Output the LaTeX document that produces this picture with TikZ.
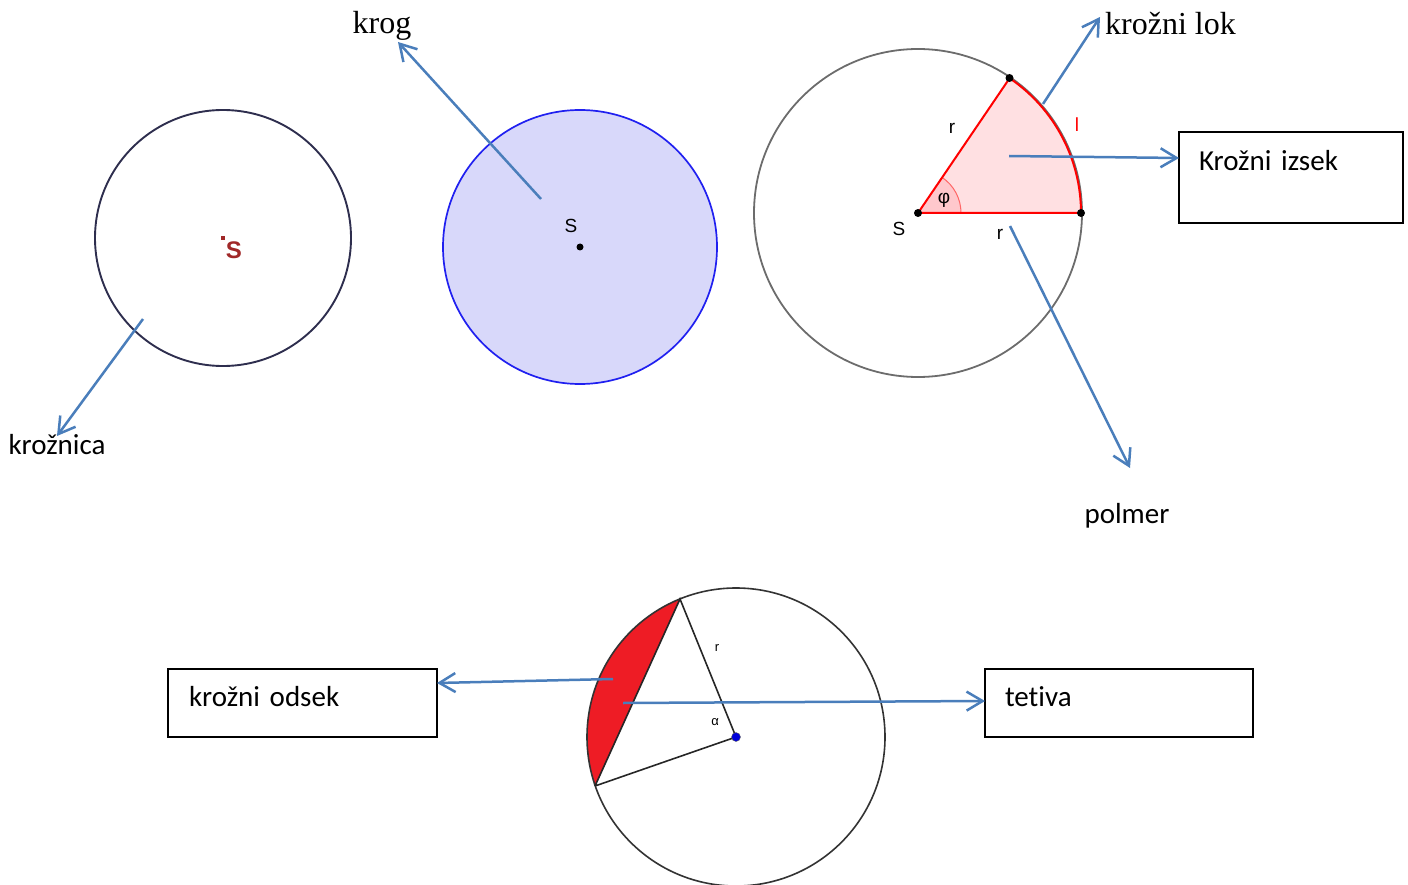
\documentclass[tikz,border=0pt]{standalone}
\usepackage{fontspec}
\setmainfont{Liberation Serif}
\newfontfamily\calib[Ligatures=NoCommon]{Carlito}
\newfontfamily\arial{Liberation Sans}
\usetikzlibrary{arrows.meta}
\definecolor{arrowblue}{HTML}{4A7EBB}
\definecolor{lavender}{HTML}{D8D8FA}
\definecolor{circblue}{HTML}{2020F0}
\definecolor{navy}{HTML}{2E2E4E}
\definecolor{sectorfill}{HTML}{FFE0E2}
\definecolor{anglefill}{HTML}{FFC8CC}
\definecolor{segred}{HTML}{EE1C25}
\definecolor{maroon}{HTML}{A02828}
\tikzset{
  x=1pt, y=1pt,
  arr/.style={draw=arrowblue, line width=2.5pt, -{Straight Barb[length=16pt,width=19pt,line width=2.5pt]}},
  serifbig/.style={font=\fontsize{32}{38}\selectfont, inner sep=0pt},
  calibbig/.style={font=\calib\fontsize{29}{35}\selectfont, inner sep=0pt},
  labelbox/.style={draw=black, line width=2pt, anchor=north west, outer sep=0pt, inner ysep=0pt,
    font=\calib\fontsize{29}{35}\selectfont, align=left},
  geo/.style={font=\arial\fontsize{19}{22}\selectfont, inner sep=0pt},
  geosmall/.style={font=\arial\fontsize{13}{15}\selectfont, inner sep=0pt},
  dot/.style={circle, fill=black, inner sep=0pt, minimum size=8pt},
}
\begin{document}
\begin{tikzpicture}
\useasboundingbox (0,0) rectangle (1408,-885);

% ---------- circle 1: kroznica ----------
\coordinate (c1) at (223,-238);
\draw[navy, line width=1.9pt] (c1) circle[radius=128];
\node[font=\arial\fontsize{24}{28}\selectfont\bfseries, text=maroon, inner sep=0pt] (s1) at (234,-250) {S};
\node[fill=maroon, inner sep=0pt, minimum size=4pt] (p1) at (223,-238) {};
\coordinate (k1a) at (143,-319);
\node[calibbig] (kroznica) at (57,-445) {krožnica};
\coordinate (k1b) at (57,-436);
\draw[arr] (k1a) -- (k1b);

% ---------- circle 2: krog ----------
\coordinate (c2) at (580,-247);
\draw[circblue, fill=lavender, line width=1.7pt] (c2) circle[radius=137];
\node[dot, minimum size=7pt] (p2) at (c2) {};
\node[geo] (s2) at (571,-226) {S};
\node[serifbig] (krog) at (382,-26) {krog};
\coordinate (k2a) at (541,-199);
\coordinate (k2b) at (398,-42);
\draw[arr] (k2a) -- (k2b);

% ---------- circle 3: sector ----------
\coordinate (S3) at (918,-213);
\draw[gray!85!black, line width=1.8pt] (S3) circle[radius=164];
\fill[sectorfill] (S3) -- (1081,-213) arc[start angle=0, end angle=55.8, radius=163] -- cycle;
\fill[anglefill] (S3) -- (961,-213) arc[start angle=0, end angle=55.8, radius=43] -- cycle;
\draw[red!60, line width=1pt] (961,-213) arc[start angle=0, end angle=55.8, radius=43];
\draw[red, line width=2pt] (S3) -- (1081,-213) arc[start angle=0, end angle=55.8, radius=163] -- cycle;
\node[dot] (pS) at (S3) {};
\node[dot] (pA) at (1081,-213) {};
\node[dot] (pB) at (1009.5,-78) {};
\node[geo] (s3) at (899,-229) {S};
\node[geo] (r1) at (952,-128) {r};
\node[geo] (r2) at (1000,-234) {r};
\node[geo, text=red] (l) at (1077,-125) {l};
\node[geo] (phi) at (944,-200) {φ};

\node[serifbig, anchor=west] (lok) at (1105,-24) {krožni lok};
\coordinate (k3a) at (1043,-104);
\coordinate (k3b) at (1100,-17);
\draw[arr] (k3a) -- (k3b);

\node[labelbox, inner xsep=20pt, text width=184pt, text height=39pt, text depth=52pt] (izsek) at (1179,-132) {Krožni izsek};
\coordinate (k4a) at (1009,-156);
\draw[arr] (k4a) -- (izsek.west |- 0,-158);

\node[calibbig] (polmer) at (1127,-516) {polmer};
\coordinate (k5a) at (1010,-226);
\coordinate (k5b) at (1130,-468);
\draw[arr] (k5a) -- (k5b);

% ---------- bottom circle: segment and chord ----------
\coordinate (c4) at (736,-737);
\coordinate (A4) at (680,-599);
\coordinate (B4) at (595,-786);
\fill[segred] (A4) arc[start angle=112.1, end angle=199.2, radius=149] -- cycle;
\draw[black!80, line width=1.6pt] (c4) circle[radius=149];
\draw[black!85, line width=1.6pt] (B4) -- (A4) -- (c4) -- (B4);
\node[circle, fill=blue!85!black, draw=black!60, inner sep=0pt, minimum size=9pt] (p4) at (c4) {};
\node[geosmall] (r4) at (717,-648) {r};
\node[geosmall] (alpha) at (715,-722) {α};

\node[labelbox, inner xsep=21pt, text width=227pt, text height=37pt, text depth=31pt] (odsek) at (168,-669) {krožni odsek};
\node[labelbox, inner xsep=20pt, text width=228pt, text height=37pt, text depth=31pt] (tetiva) at (985,-669) {tetiva};

\coordinate (k6a) at (613,-679);
\draw[arr] (k6a) -- (odsek.east |- 0,-683);
\coordinate (k7a) at (623,-703);
\draw[arr] (k7a) -- (tetiva.west |- 0,-701);
\end{tikzpicture}
\end{document}
